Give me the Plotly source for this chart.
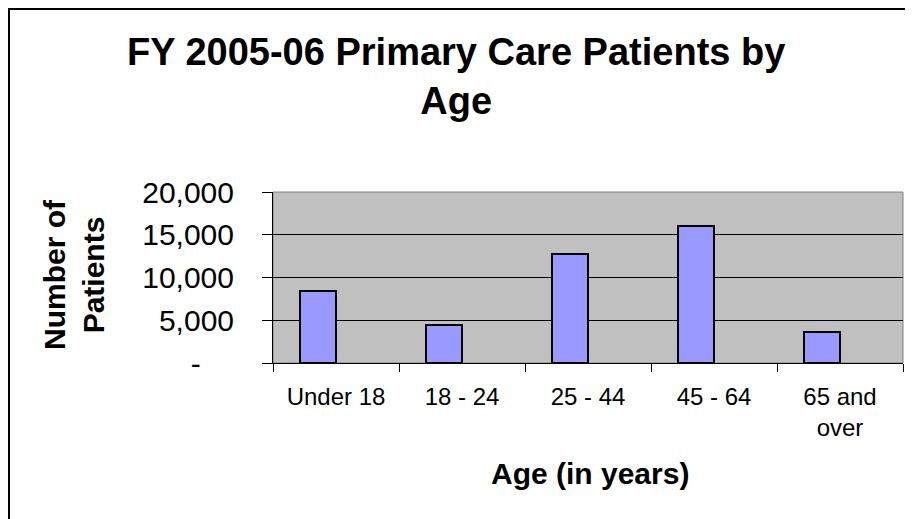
import plotly.graph_objects as go

# Data
age_groups = ["Under 18", "18 - 24", "25 - 44", "45 - 64", "65 and<br>over"]
patients = [8400, 4400, 12700, 16000, 3600]
y_tick_vals = [0, 5000, 10000, 15000, 20000]
y_tick_text = ["-\u00a0\u00a0\u00a0\u00a0", "5,000", "10,000", "15,000", "20,000"]

FONT = "Arial, Liberation Sans, sans-serif"

# the page body adds an 8px margin, so the figure is sized to fit inside it
W, H = 905, 511
L, T, PW, PH = 265, 184, 630, 171
PB = T + PH  # plot bottom in figure pixels


def px_x(x):
    return (x - L) / PW


def px_y(y):
    return (PB - y) / PH


fig = go.Figure()

fig.add_trace(go.Bar(
    x=age_groups,
    y=patients,
    width=0.286,
    offset=-0.286,
    marker=dict(color="#9999FF", line=dict(color="black", width=2)),
    showlegend=False,
))

fig.update_layout(
    width=W,
    height=H,
    margin=dict(l=L, r=W - L - PW, t=T, b=H - PB),
    paper_bgcolor="white",
    plot_bgcolor="#C0C0C0",
    font=dict(family=FONT, color="black"),
    bargap=0,
)

fig.update_xaxes(
    type="category",
    showgrid=False,
    showline=True, linecolor="black", linewidth=1,
    ticks="outside", ticklen=8, tickcolor="black",
    tickson="boundaries",
    tickfont=dict(size=24, family=FONT),
    ticklabelstandoff=12,
)

fig.update_yaxes(
    range=[0, 20000],
    tickvals=y_tick_vals,
    ticktext=y_tick_text,
    showgrid=True, gridcolor="black", gridwidth=1,
    showline=True, linecolor="black", linewidth=1,
    ticks="outside", ticklen=10, tickcolor="black",
    tickfont=dict(size=30, family=FONT),
    ticklabelstandoff=22,
    zeroline=False,
)

# chart title
fig.add_annotation(
    text="<b>FY 2005-06 Primary Care Patients by<br>Age</b>",
    xref="paper", yref="paper",
    x=px_x(448), y=px_y(21),
    xanchor="center", yanchor="top",
    showarrow=False,
    font=dict(size=38, family=FONT),
)

# axis titles placed as annotations
fig.add_annotation(
    text="<b>Age (in years)</b>",
    xref="paper", yref="paper",
    x=px_x(582), y=px_y(465),
    xanchor="center", yanchor="middle",
    showarrow=False,
    font=dict(size=30, family=FONT),
)
fig.add_annotation(
    text="<b>Number of<br>Patients</b>",
    xref="paper", yref="paper",
    x=px_x(66), y=px_y(267),
    xanchor="center", yanchor="middle",
    textangle=-90,
    showarrow=False,
    font=dict(size=30, family=FONT),
)

# plot area frame (gray) and outer chart border
fig.add_shape(type="rect", xref="paper", yref="paper",
              x0=0, x1=1, y0=0, y1=1,
              line=dict(color="#808080", width=1), layer="below")
fig.add_shape(type="rect", xref="paper", yref="paper",
              x0=px_x(1), x1=2, y0=-3, y1=px_y(1),
              line=dict(color="black", width=2), layer="above")

fig.write_html("out.html")
